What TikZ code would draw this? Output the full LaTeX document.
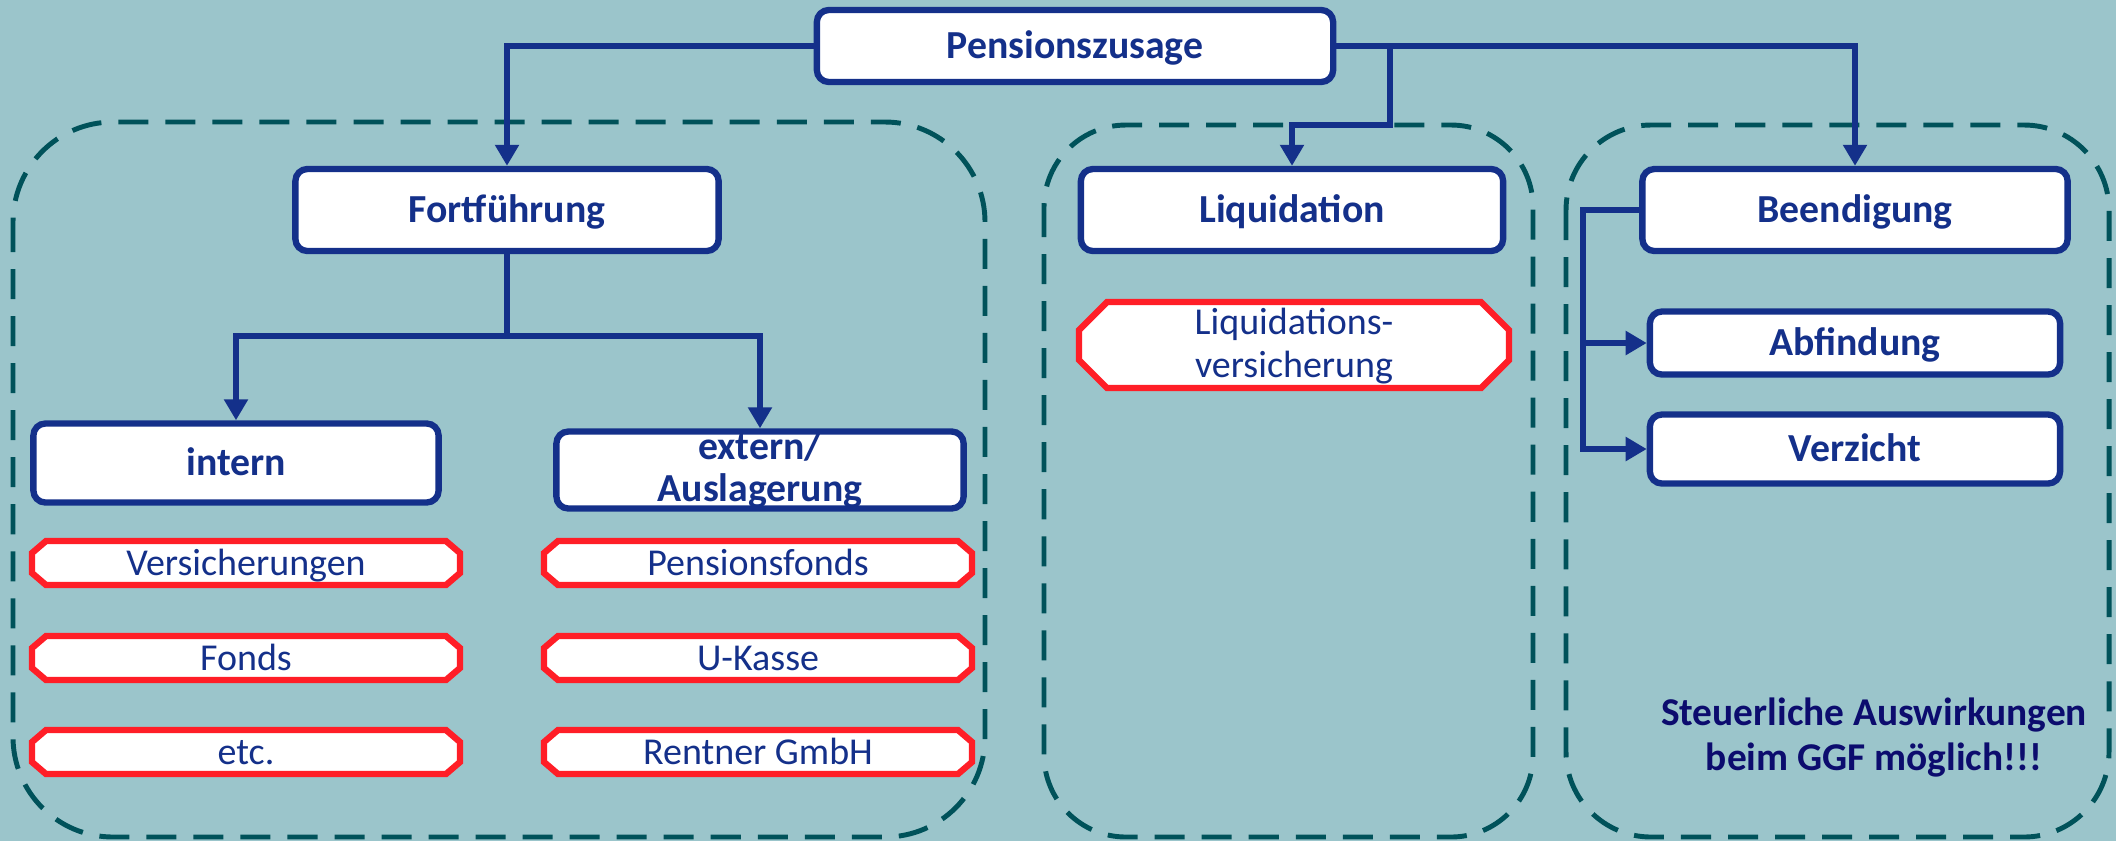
\documentclass[tikz,border=0pt]{standalone}
\usepackage{fontspec}
\setmainfont{Carlito}
\usetikzlibrary{arrows.meta}
\definecolor{bgteal}{HTML}{9BC5CB}
\definecolor{grpteal}{HTML}{00525A}
\definecolor{navy}{HTML}{14308A}
\definecolor{boxred}{HTML}{FF1E27}
\definecolor{notenavy}{HTML}{0C0C6E}

\begin{document}
\begin{tikzpicture}[x=0.01cm,y=-0.01cm,
  hauptbox/.style={draw=navy, line width=1.8pt, fill=white, rounded corners=0.12cm,
    inner sep=0pt, text=navy, font=\fontsize{11.3}{12}\selectfont\bfseries,
    text height=7.3pt, text depth=0pt, align=center},
  optrahmen/.style={draw=boxred, line width=1.8pt, fill=white},
  optbox/.style={inner sep=0pt, text=navy, align=center, text height=6.9pt, text depth=0pt,
    font=\fontsize{10.8}{12.2}\selectfont, minimum width=4.28cm, minimum height=0.44cm},
  gruppe/.style={draw=grpteal, line width=1.4pt, dash pattern=on 0.3cm off 0.17cm},
  pfeil/.style={draw=navy, line width=1.6pt, -{Triangle[length=0.21cm,width=0.23cm]}}]
  % background and frame
  \useasboundingbox (0,0) rectangle (2116,841);
  \fill[bgteal] (0,0) rectangle (2116,841);
  \draw[gruppe, rounded corners=1.0cm] (13,122) rectangle (985,837);
  \draw[gruppe, rounded corners=0.82cm] (1044,125) rectangle (1533,837);
  \draw[gruppe, rounded corners=0.85cm] (1566,125) rectangle (2109,837);

  % main nodes
  \node[hauptbox, minimum width=5.16cm, minimum height=0.72cm] (zusage) at (1075,46) {Pensionszusage};
  \node[hauptbox, minimum width=4.23cm, minimum height=0.82cm] (fort) at (507,210) {Fortführung};
  \node[hauptbox, minimum width=4.22cm, minimum height=0.82cm] (liq) at (1292,210) {Liquidation};
  \node[hauptbox, minimum width=4.25cm, minimum height=0.82cm] (beend) at (1855,210) {Beendigung};
  \node[hauptbox, minimum width=4.05cm, minimum height=0.79cm] (intern) at (236,463) {intern};
  \node[hauptbox, minimum width=4.07cm, minimum height=0.77cm, text height=, text depth=] (extern) at (760,470) {extern/\\Auslagerung};
  \node[hauptbox, minimum width=4.10cm, minimum height=0.63cm] (abf) at (1855,343) {Abfindung};
  \node[hauptbox, minimum width=4.10cm, minimum height=0.69cm] (verz) at (1855,449) {Verzicht};

  % options
  \foreach \nm/\px/\py/\txt in {versich/246/563/Versicherungen, fonds/246/658/Fonds,
      etc/246/752/etc., pfonds/758/563/Pensionsfonds, ukasse/758/658/U-Kasse,
      rentner/758/752/Rentner GmbH} {
    \draw[optrahmen, shift={(\px,\py)}] (-200,-22) -- (200,-22) -- (214,-10) -- (214,10)
      -- (200,22) -- (-200,22) -- (-214,10) -- (-214,-10) -- cycle;
    \node[optbox] (\nm) at (\px,\py) {\txt};
  }
  \draw[optrahmen, shift={(1294,345)}] (-187,-43) -- (187,-43) -- (215,-15) -- (215,15)
    -- (187,43) -- (-187,43) -- (-215,15) -- (-215,-15) -- cycle;
  \node[optbox, minimum width=4.30cm, minimum height=0.86cm, text height=, text depth=]
    (liqvers) at (1294,346) {Liquidations-\\versicherung};

  \node[text=notenavy, align=center, font=\fontsize{11.2}{12.8}\selectfont\bfseries]
    (hinweis) at (1874,737) {Steuerliche Auswirkungen\\beim GGF möglich!!!};

  % connectors
  \coordinate (liqsplit) at (1390,46);
  \coordinate (liqknee) at (1390,125);
  \coordinate (fortknee) at (507,336);
  \coordinate (beendknee) at (1583,210);
  \draw[pfeil] (zusage.west) -| (fort.north);
  \draw[pfeil] (zusage.east) -| (beend.north);
  \draw[pfeil] (liqsplit) -- (liqknee) -| (liq.north);
  \draw[pfeil] (fort.south) -- (fortknee) -| (intern.north);
  \draw[pfeil] (fortknee) -| (extern.north);
  \draw[pfeil] (beend.west) -- (beendknee) |- (abf.west);
  \draw[pfeil] (beendknee) |- (verz.west);
\end{tikzpicture}
\end{document}
